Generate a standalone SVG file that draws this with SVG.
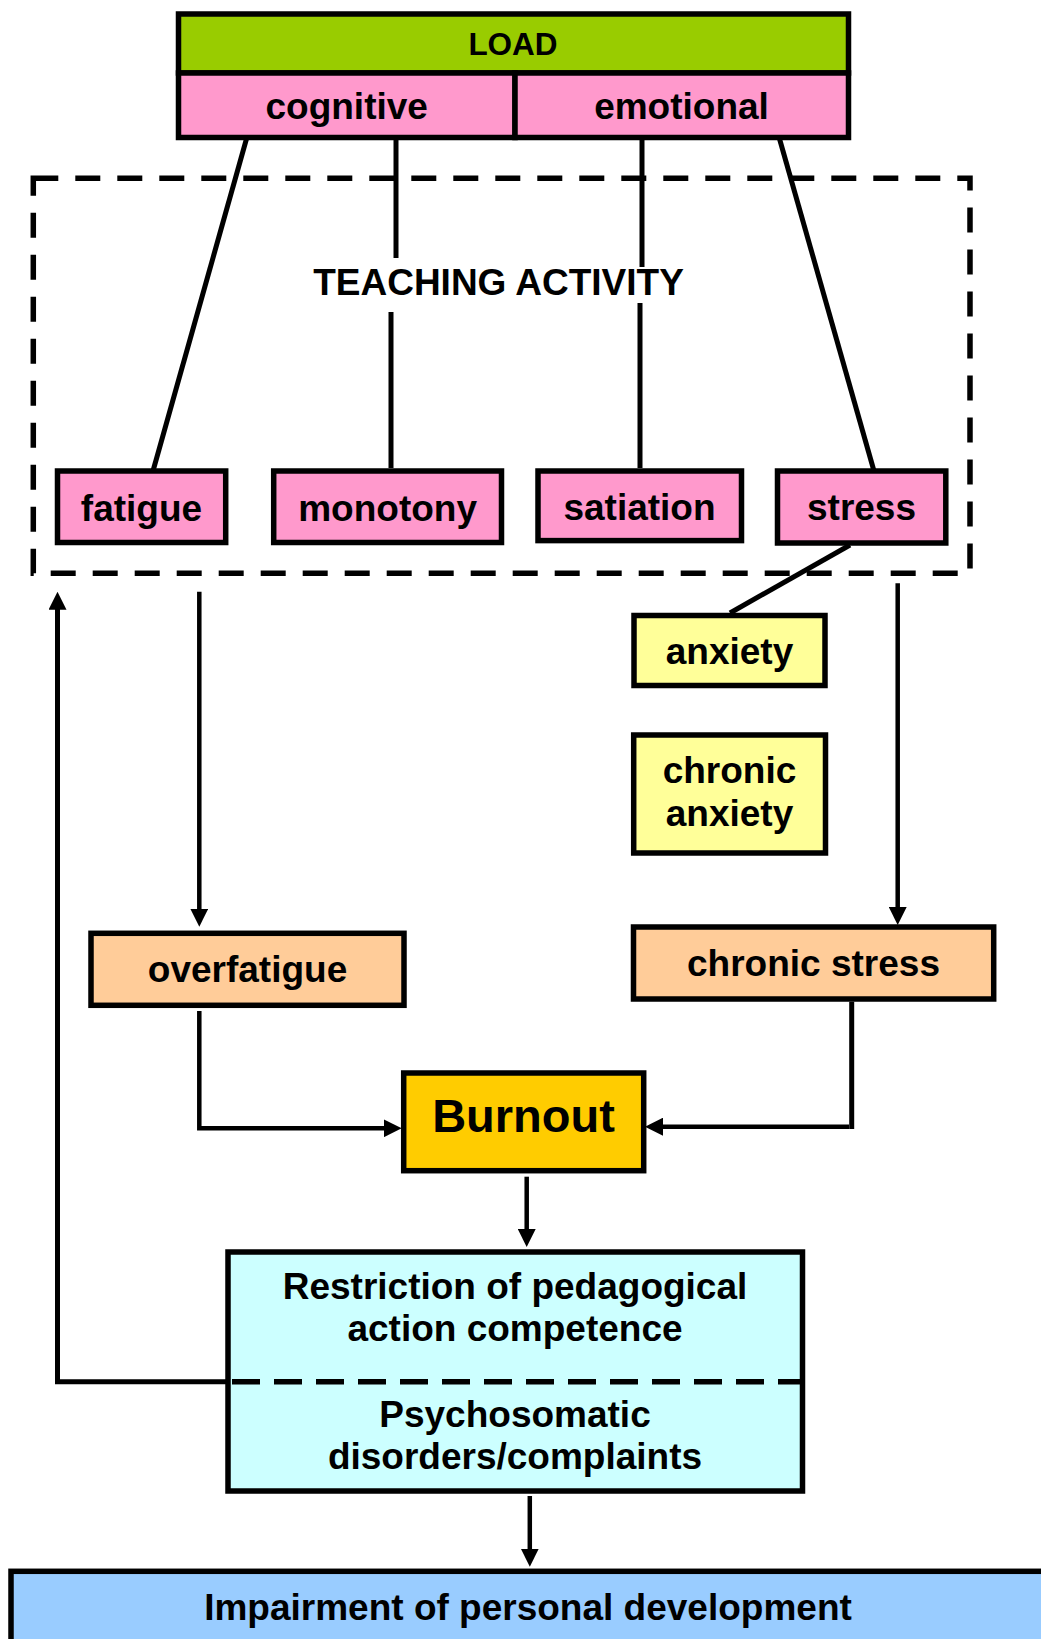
<svg xmlns="http://www.w3.org/2000/svg" width="1041" height="1639" viewBox="0 0 1041 1639">
<style>
text{font-family:"Liberation Sans",Arial,Helvetica,sans-serif;font-weight:bold;font-size:37px;text-anchor:middle;fill:#000}
.box{stroke:#000;stroke-width:5.5}
.ln{stroke:#000;stroke-width:5;fill:none}
.ar{stroke:#000;stroke-width:4.5;fill:none;marker-end:url(#ah)}
.dash{stroke:#000;stroke-width:5.5;fill:none;stroke-dasharray:25 17}
.pink{fill:#FF99CC}.yel{fill:#FFFF99}.peach{fill:#FFCC99}
</style>
<defs>
<marker id="ah" markerUnits="userSpaceOnUse" markerWidth="18" markerHeight="18" viewBox="0 0 18 18" refX="8" refY="9" orient="auto">
<path d="M0,0 L18,9 L0,18 z" fill="#000"/>
</marker>
</defs>
<rect width="1041" height="1639" fill="#fff"/>

<g id="teaching-activity">
<rect x="33.3" y="178.3" width="936.7" height="395" class="dash"/>
<text x="498.5" y="295">TEACHING ACTIVITY</text>
</g>

<g id="connectors">
<line x1="247" y1="137" x2="153" y2="471" class="ln"/>
<line x1="396" y1="137" x2="396" y2="258" class="ln"/>
<line x1="391" y1="312" x2="391" y2="468" class="ln"/>
<line x1="642" y1="137" x2="642" y2="267" class="ln"/>
<line x1="640" y1="303" x2="640" y2="468" class="ln"/>
<line x1="779" y1="137" x2="874" y2="471" class="ln"/>
<line x1="850" y1="545" x2="730" y2="613" class="ln"/>
<line x1="199.3" y1="591.7" x2="199.3" y2="916.7" class="ar"/>
<line x1="897.7" y1="583.3" x2="897.7" y2="915" class="ar"/>
<polyline points="199.3,1011 199.3,1128.3 391.7,1128.3" class="ar"/>
<polyline points="851.7,1001.7 851.7,1129" class="ln"/>
<line x1="849" y1="1126.7" x2="655" y2="1126.7" class="ar"/>
<line x1="526.7" y1="1176.7" x2="526.7" y2="1237" class="ar"/>
<polyline points="228,1381.7 57.5,1381.7 57.5,601.7" class="ar" style="stroke-width:5"/>
<line x1="529.8" y1="1496" x2="529.8" y2="1556.7" class="ar"/>
</g>

<g id="load">
<rect x="178.5" y="14" width="670" height="59" fill="#99CC00" class="box"/>
<rect x="178.5" y="73" width="336.5" height="64.5" class="box pink"/>
<rect x="515" y="73" width="333.5" height="64.5" class="box pink"/>
<text x="513" y="55" style="font-size:31.5px">LOAD</text>
<text x="346.7" y="119">cognitive</text>
<text x="681.5" y="119">emotional</text>
</g>

<g id="fatigue">
<rect x="57.5" y="471" width="168.2" height="71.5" class="box pink"/>
<text x="141.5" y="520.5">fatigue</text>
</g>
<g id="monotony">
<rect x="273.7" y="471" width="227.8" height="71.5" class="box pink"/>
<text x="387.6" y="520.5">monotony</text>
</g>
<g id="satiation">
<rect x="538" y="471" width="203.5" height="69.6" class="box pink"/>
<text x="639.5" y="520">satiation</text>
</g>
<g id="stress">
<rect x="777.5" y="471" width="168.3" height="72" class="box pink"/>
<text x="861.5" y="520">stress</text>
</g>

<g id="anxiety">
<rect x="634" y="615.5" width="191" height="70" class="box yel"/>
<text x="729.5" y="664">anxiety</text>
</g>
<g id="chronic-anxiety">
<rect x="633.7" y="735" width="191.8" height="118" class="box yel"/>
<text x="729.5" y="782.5">chronic</text>
<text x="729.5" y="825.5">anxiety</text>
</g>

<g id="overfatigue">
<rect x="91" y="933.3" width="313" height="72" class="box peach"/>
<text x="247.5" y="982">overfatigue</text>
</g>
<g id="chronic-stress">
<rect x="633.5" y="927" width="360.2" height="72" class="box peach"/>
<text x="813.5" y="976">chronic stress</text>
</g>

<g id="burnout">
<rect x="403.7" y="1073" width="240" height="97.7" fill="#FFCC00" class="box"/>
<text x="523.5" y="1131.7" style="font-size:47px">Burnout</text>
</g>

<g id="consequences">
<rect x="228" y="1252" width="574.5" height="239" fill="#CCFFFF" class="box"/>
<line x1="232" y1="1381.7" x2="800" y2="1381.7" class="dash" style="stroke-dasharray:28 14"/>
<text x="515" y="1299.3">Restriction of pedagogical</text>
<text x="515" y="1340.5">action competence</text>
<text x="515" y="1426.7">Psychosomatic</text>
<text x="515" y="1469.3">disorders/complaints</text>
</g>

<g id="impairment">
<rect x="11" y="1571.3" width="1045" height="90" fill="#99CCFF" class="box"/>
<text x="528" y="1620">Impairment of personal development</text>
</g>
</svg>
